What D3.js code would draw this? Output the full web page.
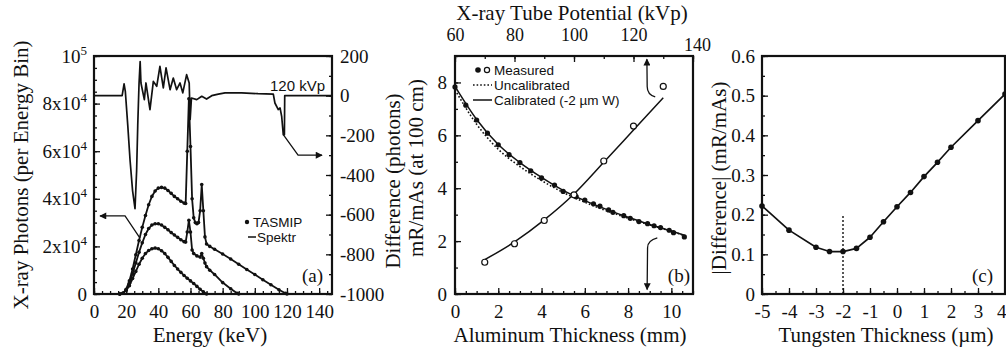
<!DOCTYPE html>
<html>
<head>
<meta charset="utf-8">
<script src="https://cdn.jsdelivr.net/npm/d3@7"></script>
<style>
  body { margin: 0; background: #fff; }
</style>
</head>
<body>
<svg id="fig" width="1006" height="347"></svg>
<script>
// ---- panel (a): spectra (photons per energy bin) ----
const energy120 = [16,18,20,22,24,26,28,30,32,34,36,38,40,42,44,46,48,50,52,54,56,57,58,59,60,61,62,63,64,65,66,67,68,69,70,72,75,80,85,90,95,100,105,110,115,119,120];
const photons120 = [0,300,2000,5500,10500,16500,22500,28000,33000,37500,41000,43300,44500,44800,44500,43500,42300,41000,40000,39000,38200,38000,60000,82000,62000,40000,32000,30000,29500,30000,35000,46000,35000,24000,21000,20000,18800,16800,14700,12500,10300,8200,6000,3900,1800,300,0];
const energy90 = [16,18,20,22,24,26,28,30,32,34,36,38,40,42,44,46,48,50,52,54,56,57,58,59,60,61,62,64,66,67,68,69,70,72,75,80,85,89,90];
const photons90 = [0,300,1800,4500,8500,13000,17500,21500,25000,27500,29000,29500,29500,29000,28000,27000,25800,24800,23800,22800,22000,21800,26000,31000,26000,18500,17000,16000,15500,17000,15000,13000,11500,10000,8200,4800,2200,300,0];
const energy70 = [16,18,20,22,24,26,28,30,32,34,36,38,40,42,44,46,48,50,52,54,56,58,60,62,64,66,68,70];
const photons70 = [0,300,1500,3500,6500,9500,12500,15000,17000,18300,19000,19300,19000,18200,17000,15400,13700,12000,10500,9100,7800,6600,5500,4400,3200,2000,900,0];
// difference TASMIP - Spektr at 120 kVp (right axis)
const diffEnergy = [0,17.5,18.7,19.5,21,22.4,24,25.5,26.5,27.2,28,28.7,29.2,31.3,32.3,34.8,36.9,39,41,43.1,44.8,47.3,49.3,51.4,53.5,55.2,57.6,59.2,59.8,60.6,63.9,67,70,73.2,77.3,81.5,91.8,102,111.5,112.5,114.6,115.7,116.7,117.7,118.4,118.6,148];
const diffPhotons = [0,0,60,20,-150,-323,-480,-570,-380,-150,60,172,64,-20,64,-70,72,47,148,39,140,30,89,30,64,14,106,64,-120,-12,-20,-3,-17,0,8,14,14,10,8,-37,-70,-62,-104,-197,-197,0,0];
const energyTicks = [0,20,40,60,80,100,120,140];
const photonTicks = [0,20000,40000,60000,80000,100000];
const diffTicks = [-1000,-800,-600,-400,-200,0,200];

// ---- panel (b): output vs aluminum thickness and tube potential ----
const alThickness = [0,0.5,1,1.5,2,2.5,3,3.5,4,4.6,5,5.6,6,6.4,6.7,7.1,7.3,7.8,8.1,8.5,8.9,9.2,9.5,9.9,10.1,10.6];
const measuredAl = [7.83,7.14,6.58,6.08,5.64,5.27,4.97,4.66,4.39,4.12,3.88,3.68,3.55,3.41,3.32,3.18,3.09,2.96,2.86,2.74,2.66,2.58,2.51,2.41,2.32,2.16];
const modelAlThickness = [0,1,2,3,4,5,6,7,8,9,10,10.6];
const calibratedAl = [7.85,6.6,5.65,4.97,4.41,3.92,3.53,3.2,2.9,2.63,2.38,2.22];
const uncalibratedAl = [7.72,6.42,5.47,4.82,4.29,3.84,3.47,3.15,2.87,2.61,2.37,2.21];
const tubeKvp = [70,80,90,100,110,120,130];
const measuredKvp = [1.2,1.9,2.78,3.75,5.03,6.35,7.85];
const calibratedKvp = [1.3,1.97,2.8,3.78,4.98,6.2,7.42];
const alTicks = [0,2,4,6,8,10];
const kvpTicks = [60,80,100,120,140];
const outputTicks = [0,2,4,6,8];

// ---- panel (c): |difference| vs tungsten thickness ----
const wThickness = [-5,-4,-3,-2.5,-2,-1.5,-1,-0.5,0,0.5,1,1.5,2,3,4];
const wDifference = [0.222,0.161,0.118,0.107,0.107,0.115,0.143,0.182,0.220,0.256,0.296,0.332,0.370,0.437,0.504];
const wTicks = [-5,-4,-3,-2,-1,0,1,2,3,4];
const wDiffTicks = [0,0.1,0.2,0.3,0.4,0.5,0.6];
const bestW = -2;

const ink = '#111';
const serif = '"Liberation Serif","DejaVu Serif",serif';
const sans = '"Liberation Sans",Arial,sans-serif';
const svg = d3.select('#fig');
svg.append('rect').attr('width', 1006).attr('height', 347).attr('fill', '#fff');

const defs = svg.append('defs');
defs.append('marker').attr('id', 'head')
  .attr('viewBox', '0 0 10 10').attr('refX', 9).attr('refY', 5)
  .attr('markerWidth', 9).attr('markerHeight', 7).attr('markerUnits', 'userSpaceOnUse')
  .attr('orient', 'auto')
  .append('path').attr('d', 'M0,0L10,5L0,10Z').attr('fill', ink);

function range(a, b, step) {
  const out = [];
  for (let v = a; v <= b + 1e-9; v += step) out.push(+v.toFixed(4));
  return out;
}

function addAxis(kind, scale, tx, ty, majors, minors, fmt, pad, size) {
  const g = svg.append('g').attr('transform', `translate(${tx},${ty})`);
  if (minors) {
    const mg = g.append('g').call(kind(scale).tickValues(minors).tickSizeInner(-3).tickSizeOuter(0).tickFormat(''));
    mg.selectAll('text').remove();
  }
  const m = g.append('g').call(kind(scale).tickValues(majors).tickSizeInner(-6).tickSizeOuter(0)
    .tickPadding(pad).tickFormat(fmt || (d => String(d))));
  g.selectAll('.domain').remove();
  g.selectAll('line').attr('stroke', ink).attr('stroke-width', 1.3);
  m.attr('font-family', serif).attr('font-size', size || 19);
  m.selectAll('text').attr('fill', ink);
  return m;
}

function frame(x, y) {
  svg.append('rect')
    .attr('x', x.range()[0]).attr('y', y.range()[1])
    .attr('width', x.range()[1] - x.range()[0]).attr('height', y.range()[0] - y.range()[1])
    .attr('fill', 'none').attr('stroke', ink).attr('stroke-width', 2.2);
}

function title(text, x, y, rotate) {
  svg.append('text').attr('transform', `translate(${x},${y})` + (rotate ? ' rotate(-90)' : ''))
    .attr('text-anchor', 'middle').attr('font-family', serif).attr('font-size', 21)
    .attr('fill', ink).text(text);
}

function label(text, x, y, font, size, anchor) {
  return svg.append('text').attr('x', x).attr('y', y).attr('font-family', font)
    .attr('font-size', size).attr('text-anchor', anchor || 'start').attr('fill', ink).text(text);
}

function drawLine(xs, ys, sx, sy, width, dash, curve) {
  const pts = xs.map((v, i) => [v, ys[i]]);
  svg.append('path').datum(pts)
    .attr('d', d3.line().x(d => sx(d[0])).y(d => sy(d[1])).curve(curve || d3.curveLinear))
    .attr('fill', 'none').attr('stroke', ink).attr('stroke-width', width)
    .attr('stroke-dasharray', dash || null).attr('stroke-linejoin', 'round');
}

function drawDots(xs, ys, sx, sy, r, open) {
  svg.append('g').selectAll('circle').data(xs.map((v, i) => [v, ys[i]])).join('circle')
    .attr('cx', d => sx(d[0])).attr('cy', d => sy(d[1])).attr('r', r)
    .attr('fill', open ? '#fff' : ink).attr('stroke', ink).attr('stroke-width', open ? 1.2 : 0);
}

function arrow(pathD) {
  svg.append('path').attr('d', pathD).attr('fill', 'none').attr('stroke', ink)
    .attr('stroke-width', 1.3).attr('marker-end', 'url(#head)');
}

// ================= panel (a) =================
const xa = d3.scaleLinear([0, 148], [94, 332]);
const ya = d3.scaleLinear([0, 100000], [294, 56]);
const yd = d3.scaleLinear([-1000, 200], [294, 56]);

addAxis(d3.axisBottom, xa, 0, 294, energyTicks, range(0, 145, 5), null, 10.5);
const leftA = addAxis(d3.axisLeft, ya, 94, 0, photonTicks, range(0, 100000, 5000), null, 7);
leftA.selectAll('text').each(function (d) {
  const t = d3.select(this).text('');
  if (d === 0) { t.text('0'); return; }
  t.append('tspan').text(d === 100000 ? '10' : `${d / 10000}x10`);
  t.append('tspan').attr('font-size', 13).attr('dy', -8).text(d === 100000 ? '5' : '4');
});
addAxis(d3.axisRight, yd, 332, 0, diffTicks, range(-1000, 200, 100), null, 8);

drawLine(energy70, photons70, xa, ya, 1.8);
drawLine(energy90, photons90, xa, ya, 1.8);
drawLine(energy120, photons120, xa, ya, 1.8);
drawDots(energy70, photons70, xa, ya, 1.8);
drawDots(energy90, photons90, xa, ya, 1.8);
drawDots(energy120, photons120, xa, ya, 1.8);
drawLine(diffEnergy, diffPhotons, xa, yd, 1.7);

arrow(`M${xa(28.6)},${ya(23500)}L${xa(19.3)},${ya(32800)}L${xa(3.7)},${ya(32800)}`);
arrow(`M${xa(117.7)},${yd(-197)}L${xa(126.9)},${yd(-300)}L${xa(141.8)},${yd(-300)}`);

label('120 kVp', 325, 91, sans, 15, 'end');
svg.append('circle').attr('cx', 247).attr('cy', 222).attr('r', 2.2).attr('fill', ink);
label('TASMIP', 253, 227, sans, 13.5);
svg.append('line').attr('x1', 248).attr('x2', 256).attr('y1', 237).attr('y2', 237).attr('stroke', ink).attr('stroke-width', 1.5);
label('Spektr', 257, 242, sans, 13.5);
label('(a)', 323, 282, serif, 19, 'end');
frame(xa, ya);

title('X-ray Photons (per Energy Bin)', 28, 175, true);
title('Difference (photons)', 400, 181, true);
title('Energy (keV)', 210, 342);

// ================= panel (b) =================
const xb = d3.scaleLinear([0, 11], [455, 693]);
const xk = d3.scaleLinear([60, 140], [455, 693]);
const yb = d3.scaleLinear([0, 9], [294, 56]);

addAxis(d3.axisBottom, xb, 0, 294, alTicks, range(0, 11, 0.5), null, 10.5);
const topB = addAxis(d3.axisTop, xk, 0, 56, kvpTicks, range(60, 140, 10), null, 15, 18);
topB.selectAll('text').filter(d => d === 140).attr('dx', 4).attr('dy', 10);
addAxis(d3.axisLeft, yb, 455, 0, outputTicks, range(0, 9, 1), null, 8);

drawLine(modelAlThickness, uncalibratedAl, xb, yb, 1.6, '1.6,2', d3.curveMonotoneX);
drawLine(modelAlThickness, calibratedAl, xb, yb, 1.5, null, d3.curveMonotoneX);
drawDots(alThickness, measuredAl, xb, yb, 2.6);
drawLine(tubeKvp, calibratedKvp, xk, yb, 1.5, null, d3.curveMonotoneX);
drawDots(tubeKvp, measuredKvp, xk, yb, 3, true);

arrow(`M${xk(127.3)},${yb(7.45)}Q${xk(124.6)},${yb(7.55)} ${xk(124.6)},${yb(7.85)}L${xk(124.5)},${yb(8.88)}`);
arrow(`M${xb(9.35)},${yb(2.12)}Q${xb(8.9)},${yb(2.02)} ${xb(8.9)},${yb(1.75)}L${xb(8.88)},${yb(0.17)}`);

svg.append('circle').attr('cx', 478).attr('cy', 70).attr('r', 2.8).attr('fill', ink);
svg.append('circle').attr('cx', 487).attr('cy', 70).attr('r', 2.6).attr('fill', '#fff').attr('stroke', ink).attr('stroke-width', 1.2);
label('Measured', 494, 75, sans, 13.5);
svg.append('line').attr('x1', 473).attr('x2', 492).attr('y1', 85).attr('y2', 85).attr('stroke', ink).attr('stroke-width', 1.6).attr('stroke-dasharray', '1.6,2');
label('Uncalibrated', 494, 90, sans, 13.5);
svg.append('line').attr('x1', 473).attr('x2', 492).attr('y1', 100).attr('y2', 100).attr('stroke', ink).attr('stroke-width', 1.5);
label('Calibrated (-2 \u00b5m W)', 494, 105, sans, 13.5);
label('(b)', 690, 282, serif, 19, 'end');
frame(xb, yb);

title('mR/mAs (at 100 cm)', 423, 168, true);
title('Aluminum Thickness (mm)', 570, 342);
title('X-ray Tube Potential (kVp)', 572, 20);

// ================= panel (c) =================
const xc = d3.scaleLinear([-5, 4], [762, 1005]);
const yc = d3.scaleLinear([0, 0.6], [294, 56]);

const bottomC = addAxis(d3.axisBottom, xc, 0, 294, wTicks, range(-5, 4, 0.5), d => String(d), 10.5);
bottomC.selectAll('text').filter(d => d === 4).attr('text-anchor', 'end').attr('dx', 1);
addAxis(d3.axisLeft, yc, 762, 0, wDiffTicks, range(0, 0.6, 0.05), d => d === 0 ? '0' : d.toFixed(1), 7);

svg.append('line').attr('x1', xc(bestW)).attr('x2', xc(bestW)).attr('y1', yc(0)).attr('y2', yc(0.2))
  .attr('stroke', ink).attr('stroke-width', 1.4).attr('stroke-dasharray', '2,2');
drawLine(wThickness, wDifference, xc, yc, 1.7);
drawDots(wThickness, wDifference, xc, yc, 2.8);

label('(c)', 993, 282, serif, 19, 'end');
frame(xc, yc);

title('|Difference| (mR/mAs)', 726, 178, true);
title('Tungsten Thickness (\u00b5m)', 886, 342);
</script>
</body>
</html>
